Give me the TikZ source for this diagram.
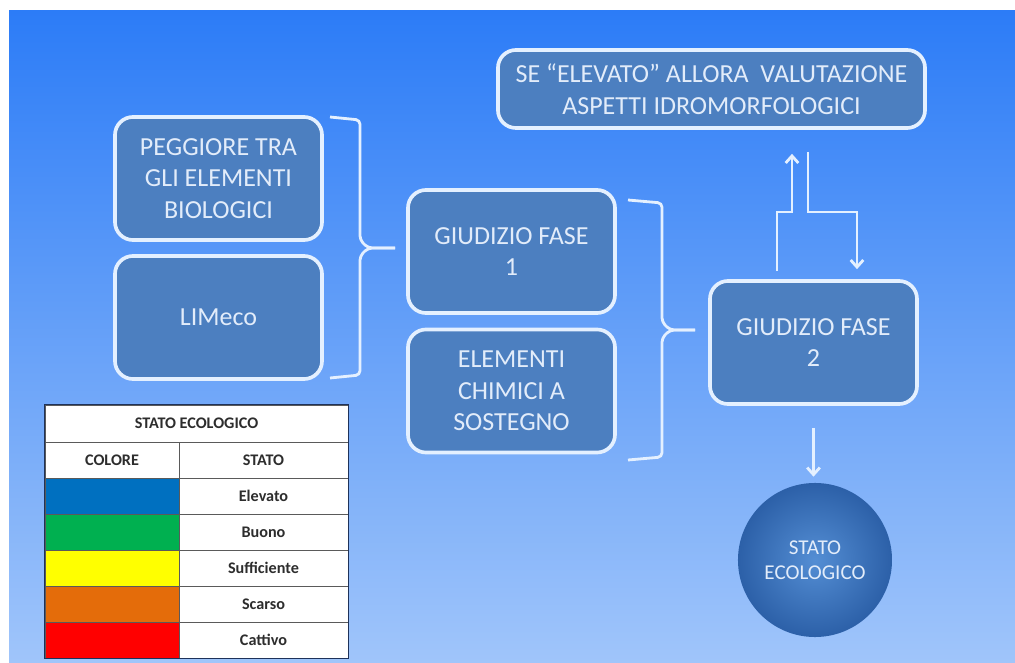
\documentclass[tikz,border=0pt]{standalone}
\usepackage{fontspec}
\setmainfont{Carlito}
\usetikzlibrary{arrows.meta}

\definecolor{bgtop}{RGB}{44,124,247}
\definecolor{bgbot}{RGB}{160,197,250}
\definecolor{boxfill}{RGB}{76,127,192}
\definecolor{boxline}{RGB}{228,240,255}
\definecolor{boxtext}{RGB}{226,236,250}
\definecolor{discin}{RGB}{84,142,212}
\definecolor{discout}{RGB}{44,96,168}
\definecolor{tline}{RGB}{90,90,90}
\definecolor{tframe}{RGB}{30,50,90}
\definecolor{ttext}{RGB}{45,45,45}
\definecolor{cblue}{RGB}{0,112,192}
\definecolor{cgreen}{RGB}{0,176,80}
\definecolor{cyellow}{RGB}{255,255,0}
\definecolor{corange}{RGB}{228,108,10}
\definecolor{cred}{RGB}{255,0,0}

\begin{document}
\begin{tikzpicture}[
    x=0.025cm, y=-0.025cm,
    box/.style={draw=boxline, line width=2.6pt, fill=boxfill, rounded corners=0.45cm,
        text=boxtext, align=center, font=\fontsize{18.5}{22.5}\selectfont,
        minimum width=5.175cm, minimum height=3.075cm, inner sep=2pt},
    disc/.style={circle, minimum size=3.85cm, inner color=discin, outer color=discout,
        text=boxtext, align=center, font=\fontsize{15}{18}\selectfont},
    brace/.style={draw=boxline, line width=2pt, rounded corners=3pt},
    flow/.style={draw=boxline, line width=2pt, -{Straight Barb[length=5pt,width=9pt]}},
    cell/.style={draw=tline, line width=0.5pt, fill=white, inner sep=0pt, minimum height=0.9cm,
        text=ttext, font=\fontsize{11.5}{13}\selectfont\bfseries},
    swatch/.style={draw=tline, line width=0.5pt, fill=#1, inner sep=0pt,
        minimum width=3.35cm, minimum height=0.9cm}
]

    % --- BACKGROUND ---
    \useasboundingbox (0,0) rectangle (1015,663);
    \fill[white] (0,0) rectangle (1015,663);
    \shade[top color=bgtop, bottom color=bgbot] (9,11) rectangle (1015,663);

    % --- BOXES ---
    \node[box] (bio) at (218.5,178.5) {PEGGIORE TRA\\GLI ELEMENTI\\BIOLOGICI};
    \node[box] (lim) at (218.5,317.5) {LIMeco};
    \node[box] (fase1) at (511.5,251.5) {GIUDIZIO FASE\\1};
    \node[box] (chim) at (511.5,391) {ELEMENTI\\CHIMICI A\\SOSTEGNO};
    \node[box] (fase2) at (813.5,342.5) {GIUDIZIO FASE\\2};
    \node[box, minimum width=10.675cm, minimum height=1.95cm] (top) at (711.5,89)
        {SE “ELEVATO” ALLORA\ \ VALUTAZIONE\\ASPETTI IDROMORFOLOGICI};
    \node[disc] (eco) at (815,560) {STATO\\ECOLOGICO};

    % --- BRACKETS ---
    \coordinate (tip1) at (395,248);
    \coordinate (tip2) at (695,330);
    \draw[brace] (330,117) -- (360,120) -- (360,240) -- (368,248) -- (tip1);
    \draw[brace] (tip1) -- (368,248) -- (360,256) -- (360,375) -- (330,378);
    \draw[brace] (628,200) -- (662,203) -- (662,322) -- (670,330) -- (tip2);
    \draw[brace] (tip2) -- (670,330) -- (662,338) -- (662,457) -- (628,460);

    % --- ARROWS ---
    \coordinate (u1) at (777,212);
    \coordinate (u2) at (792,212);
    \coordinate (d1) at (808,212);
    \coordinate (d2) at (857,212);
    \draw[flow, shorten <=0.2cm, shorten >=0.6cm] (fase2.north -| u1) -- (u1) -- (u2) -- (top.south -| u2);
    \draw[flow, shorten <=0.55cm, shorten >=0.25cm] (top.south -| d1) -- (d1) -- (d2) -- (fase2.north -| d2);
    \draw[flow, shorten <=0.55cm, shorten >=0.15cm] (fase2.south) -- (fase2.south |- eco.north);

    % --- LEGEND TABLE ---
    \node[cell, minimum width=7.575cm, minimum height=0.925cm] (head) at (196.5,423.5) {STATO ECOLOGICO};
    \node[cell, minimum width=3.35cm] (col) at (112,460) {COLORE};
    \node[cell, minimum width=4.225cm] (sta) at (263.5,460) {STATO};
    \foreach \name/\col [count=\i] in {Elevato/cblue, Buono/cgreen, Sufficiente/cyellow, Scarso/corange, Cattivo/cred} {
        \node[swatch=\col] (c\i) at (112,460+36*\i) {};
        \node[cell, minimum width=4.225cm] (s\i) at (263.5,460+36*\i) {\name};
    }
    \draw[tframe, line width=1pt] (head.north west) rectangle (s5.south east);

\end{tikzpicture}
\end{document}
